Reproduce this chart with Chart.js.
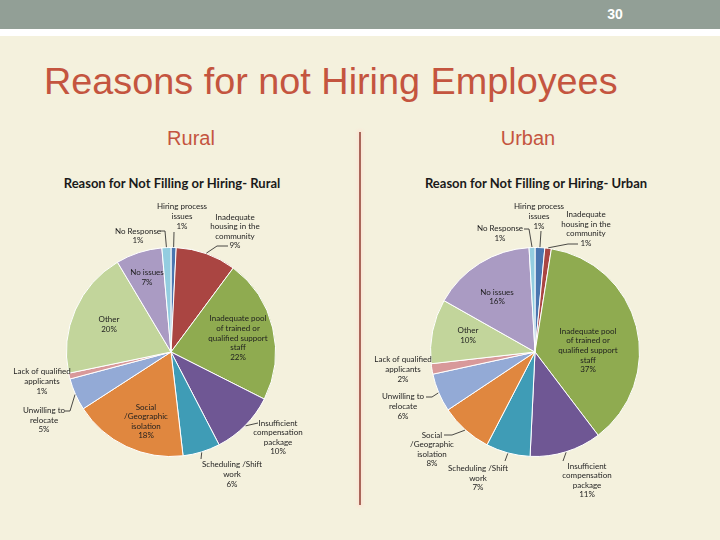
<!DOCTYPE html>
<html>
<head>
<meta charset="utf-8">
<script src="https://cdn.jsdelivr.net/npm/chart.js@4/dist/chart.umd.min.js"></script>
<style>
  html,body{margin:0;padding:0;}
  body{width:720px;height:540px;background:#f4f1dd;position:relative;overflow:hidden;font-family:"Liberation Sans",Arial,sans-serif;}
  .band{position:absolute;left:0;top:0;width:720px;height:29px;background:#929f96;}
  .stripe{position:absolute;left:0;top:29px;width:720px;height:7px;background:#ffffff;}
  .pg{position:absolute;left:600px;top:6px;width:30px;text-align:center;color:#fff;font:bold 14px "Liberation Sans",Arial,sans-serif;}
  .title{position:absolute;left:44px;top:60px;color:#c4553f;font:37.8px "Liberation Sans",Arial,sans-serif;white-space:nowrap;}
  .sub{position:absolute;top:127px;color:#c4553f;font:20px "Liberation Sans",Arial,sans-serif;width:120px;text-align:center;}
  .ct{position:absolute;top:175px;width:300px;text-align:center;color:#1a1a1a;font:bold 13px Lato,"Noto Sans",sans-serif;white-space:nowrap;}
  .divider{position:absolute;left:359px;top:132px;width:2px;height:373px;background:#a9675a;box-shadow:0 0 3px 2px #fbe6d6;}
  canvas{position:absolute;}
</style>
</head>
<body>
<div class="band"></div>
<div class="stripe"></div>
<div class="pg">30</div>
<div class="title">Reasons for not Hiring Employees</div>
<div class="sub" style="left:131px;">Rural</div>
<div class="sub" style="left:468px;">Urban</div>
<div class="divider"></div>
<div class="ct" style="left:22px;">Reason for Not Filling or Hiring- Rural</div>
<div class="ct" style="left:386px;">Reason for Not Filling or Hiring- Urban</div>
<canvas id="rural" width="360" height="345" style="left:0;top:160px;width:360px;height:345px;"></canvas>
<canvas id="urban" width="360" height="345" style="left:360px;top:160px;width:360px;height:345px;"></canvas>
<script>
// ---- data ----
const categories = [
  "Hiring process\nissues",
  "Inadequate\nhousing in the\ncommunity",
  "Inadequate pool\nof trained or\nqualified support\nstaff",
  "Insufficient\ncompensation\npackage",
  "Scheduling /Shift\nwork",
  "Social\n/Geographic\nisolation",
  "Unwilling to\nrelocate",
  "Lack of qualified\napplicants",
  "Other",
  "No issues",
  "No Response"
];
const ruralValues = [0.8, 9.4, 22.4, 10.0, 5.8, 17.8, 5.0, 0.9, 19.8, 7.2, 1.4];
const urbanValues = [1.49, 1.0, 36.9, 11.0, 6.8, 8.0, 5.9, 1.6, 9.9, 15.8, 0.9];

// ---- styles ----
const sliceColors = ["#4a76b0","#aa4542","#8fab50","#6f5794","#3f9cb6","#e0873f",
                     "#93aad6","#d8999a","#c2d59b","#aa9bc3","#93cde0"];

// label layout: text block centre offset from pie centre, and leader points (offsets)
const ruralLayout = [
  {d:[11,-135.5], lead:[[3,-120]]},
  {d:[64,-120.5], lead:[[46,-106],[57,-106]]},
  {d:[67,-14]},
  {d:[107,85.5], lead:[[87,71]]},
  {d:[61,122.5], lead:[[30,107]]},
  {d:[-25,69.5]},
  {d:[-127,68], lead:[[-101,59],[-106,59]]},
  {d:[-129,29.5]},
  {d:[-62,-27.5]},
  {d:[-24,-74.5]},
  {d:[-33,-116], lead:[[-6,-121],[-11,-121]]}
];
const urbanLayout = [
  {d:[4,-135.5], lead:[[6,-121]]},
  {d:[51,-123], lead:[[33,-108],[43,-108]]},
  {d:[53,-1.5]},
  {d:[52,128.5], lead:[[28,109]]},
  {d:[-57,126], lead:[[-30,109]]},
  {d:[-103,97.5], lead:[[-83,83],[-91,83]]},
  {d:[-132,54.5], lead:[[-103,45],[-109,45]]},
  {d:[-132,17.5]},
  {d:[-67,-16.5]},
  {d:[-38,-55]},
  {d:[-35,-118.5], lead:[[-6,-123],[-11,-123]]}
];

const labelPlugin = {
  id: 'pieLabels',
  afterDatasetsDraw(chart, args, opts) {
    const ctx = chart.ctx;
    const meta = chart.getDatasetMeta(0);
    const vals = chart.data.datasets[0].data;
    const layout = opts.layout;
    const lh = 9.6;
    ctx.save();
    ctx.font = '8px Lato, "Noto Sans", sans-serif';
    ctx.fillStyle = '#1e1e1e';
    ctx.strokeStyle = '#1e1e1e';
    ctx.lineWidth = 0.8;
    ctx.textAlign = 'center';
    ctx.textBaseline = 'middle';
    meta.data.forEach((arc, i) => {
      const p = arc.getProps(['x','y','startAngle','endAngle','outerRadius'], true);
      const L = layout[i];
      if (L.lead) {
        const mid = (p.startAngle + p.endAngle) / 2;
        ctx.beginPath();
        ctx.moveTo(p.x + Math.cos(mid) * (p.outerRadius + 0.5), p.y + Math.sin(mid) * (p.outerRadius + 0.5));
        L.lead.forEach(pt => ctx.lineTo(p.x + pt[0], p.y + pt[1]));
        ctx.stroke();
      }
      const lines = chart.data.labels[i].split('\n');
      lines.push(Math.round(vals[i]) + '%');
      const cx = p.x + L.d[0];
      const cy = p.y + L.d[1];
      const y0 = cy - (lines.length - 1) * lh / 2;
      lines.forEach((t, k) => ctx.fillText(t, cx, y0 + k * lh));
    });
    ctx.restore();
  }
};

function makePie(id, values, layout, pad) {
  return new Chart(document.getElementById(id), {
    type: 'pie',
    data: {
      labels: categories,
      datasets: [{
        data: values,
        backgroundColor: sliceColors,
        borderColor: '#ffffff',
        borderWidth: 1
      }]
    },
    options: {
      responsive: false,
      animation: false,
      layout: { padding: pad },
      plugins: {
        legend: { display: false },
        tooltip: { enabled: false },
        title: { display: false },
        pieLabels: { layout: layout }
      }
    },
    plugins: [labelPlugin]
  });
}

makePie('rural', ruralValues, ruralLayout, {left:66, right:84, top:87, bottom:48});
makePie('urban', urbanValues, urbanLayout, {left:70, right:80, top:87, bottom:48});
</script>
</body>
</html>
